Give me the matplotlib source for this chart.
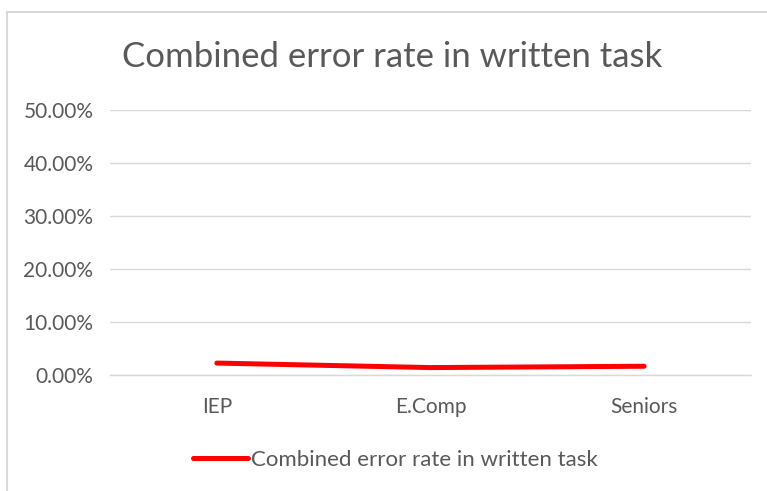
import matplotlib.pyplot as plt
from matplotlib.lines import Line2D
from matplotlib.ticker import FuncFormatter

categories = ['IEP', 'E.Comp', 'Seniors']
error_rate = [2.25, 1.4, 1.65]
series_name = 'Combined error rate in written task'

plt.rcParams['font.family'] = ['Lato', 'DejaVu Sans']
txt = '#595959'
grid = '#d9d9d9'

W, H = 767, 491
fig = plt.figure(figsize=(W / 100, H / 100), dpi=100)
ax = fig.add_axes([110 / W, 1 - 375 / H, (751 - 110) / W, (375 - 110) / H])

x = list(range(len(categories)))
ax.plot(x, error_rate, color='#ff0000', lw=3.6, solid_capstyle='round',
        label=series_name)

ax.set_xlim(-0.5, len(categories) - 0.5)
ax.set_ylim(0, 50)
ax.set_yticks([0, 10, 20, 30, 40, 50])
ax.yaxis.set_major_formatter(FuncFormatter(lambda v, p: '%.2f%%' % v))
ax.set_xticks(x)
ax.set_xticklabels(categories)
ax.tick_params(length=0, labelsize=15, colors=txt)
ax.tick_params(axis='y', pad=12)
ax.tick_params(axis='x', pad=16)
ax.grid(axis='y', color=grid, lw=1)
ax.set_axisbelow(True)
for s in ['top', 'right', 'left']:
    ax.spines[s].set_visible(False)
ax.spines['bottom'].set_color(grid)
ax.spines['bottom'].set_linewidth(1)

fig.text(392 / W, 1 - 57 / H, series_name, ha='center', va='center',
         fontsize=25, color=txt)

leg = fig.legend(*ax.get_legend_handles_labels(), loc='center',
                 bbox_to_anchor=(395 / W, 1 - 460 / H),
                 frameon=False, fontsize=16, handlelength=2.5, handletextpad=0.1,
                 labelcolor=txt)

# outer chart border
fig.add_artist(Line2D([7 / W, 7 / W], [0, 1 - 12 / H], color=grid, lw=1.5))
fig.add_artist(Line2D([7 / W, 1], [1 - 12 / H, 1 - 12 / H], color=grid, lw=1.5))

fig.savefig('out.png', dpi=100)
